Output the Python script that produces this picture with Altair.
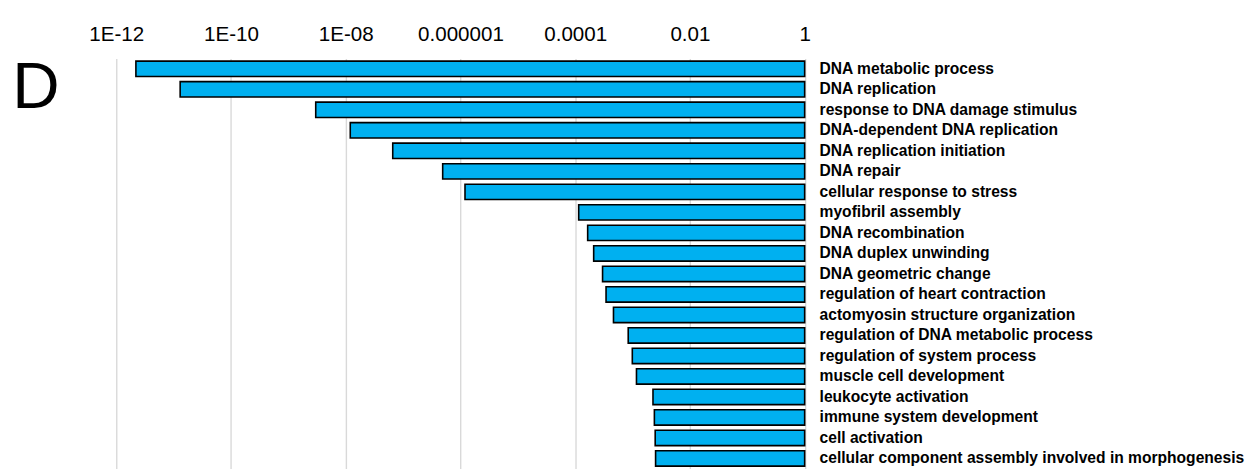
import altair as alt
import pandas as pd

terms = [
    "DNA metabolic process",
    "DNA replication",
    "response to DNA damage stimulus",
    "DNA-dependent DNA replication",
    "DNA replication initiation",
    "DNA repair",
    "cellular response to stress",
    "myofibril assembly",
    "DNA recombination",
    "DNA duplex unwinding",
    "DNA geometric change",
    "regulation of heart contraction",
    "actomyosin structure organization",
    "regulation of DNA metabolic process",
    "regulation of system process",
    "muscle cell development",
    "leukocyte activation",
    "immune system development",
    "cell activation",
    "cellular component assembly involved in morphogenesis",
]
pvalues = [2.2e-12, 1.3e-11, 3.0e-9, 1.2e-8, 6.6e-8, 4.9e-7, 1.2e-6,
           1.15e-4, 1.65e-4, 2.1e-4, 3.0e-4, 3.45e-4, 4.65e-4, 8.4e-4,
           9.9e-4, 1.17e-3, 2.27e-3, 2.4e-3, 2.48e-3, 2.52e-3]
baseline = [1.0] * len(terms)

tick_values = [1e-12, 1e-10, 1e-8, 1e-6, 1e-4, 1e-2, 1.0]
tick_labels = ["1E-12", "1E-10", "1E-08", "0.000001", "0.0001", "0.01", "1"]

panel_letter = ["D"]

df = pd.DataFrame({"term": terms, "p": pvalues, "one": baseline})

# label expression built from tick lists
expr = "'" + tick_labels[-1] + "'"
for v, lab in reversed(list(zip(tick_values[:-1], tick_labels[:-1]))):
    expr = f"datum.value < {v * 10:.0e} ? '{lab}' : " + expr
label_expr = expr

W = 692.5
H = 412.6

bars = alt.Chart(df).mark_bar(
    color="#00B0F0", stroke="black", strokeWidth=1.6
).encode(
    x=alt.X("p:Q",
            scale=alt.Scale(type="log", domain=[1e-12, 1], nice=False),
            axis=alt.Axis(orient="top", values=tick_values, labelExpr=label_expr,
                          title=None, ticks=False, domain=False,
                          grid=True, gridColor="#D9D9D9", gridWidth=1.4,
                          labelFont="Liberation Sans", labelFontSize=20.7,
                          labelColor="black", labelPadding=18,
                          labelBaseline="alphabetic", labelFlush=False)),
    x2="one:Q",
    y=alt.Y("term:N", sort=terms,
            scale=alt.Scale(paddingInner=0.25, paddingOuter=0.125),
            axis=alt.Axis(orient="right", title=None, ticks=False, domain=False,
                          grid=False, labelFont="Liberation Sans",
                          labelFontWeight="bold", labelFontSize=15.7,
                          labelColor="black", labelPadding=14.5,
                          labelLimit=1000, labelAlign="left")),
)

letter = alt.Chart(pd.DataFrame({"t": panel_letter})).mark_text(
    font="Liberation Sans", fontSize=66, color="black",
    align="left", baseline="alphabetic"
).encode(
    x=alt.value(-104.5), y=alt.value(49.3), text="t:N"
)

chart = alt.layer(bars, letter).properties(
    width=W, height=H,
    autosize=alt.AutoSizeParams(type="none"),
    padding={"left": 108.9, "top": 49.5, "right": 450, "bottom": 0},
).configure_view(stroke=None)

chart.save("out.html", embed_options={"renderer": "svg", "actions": False})
